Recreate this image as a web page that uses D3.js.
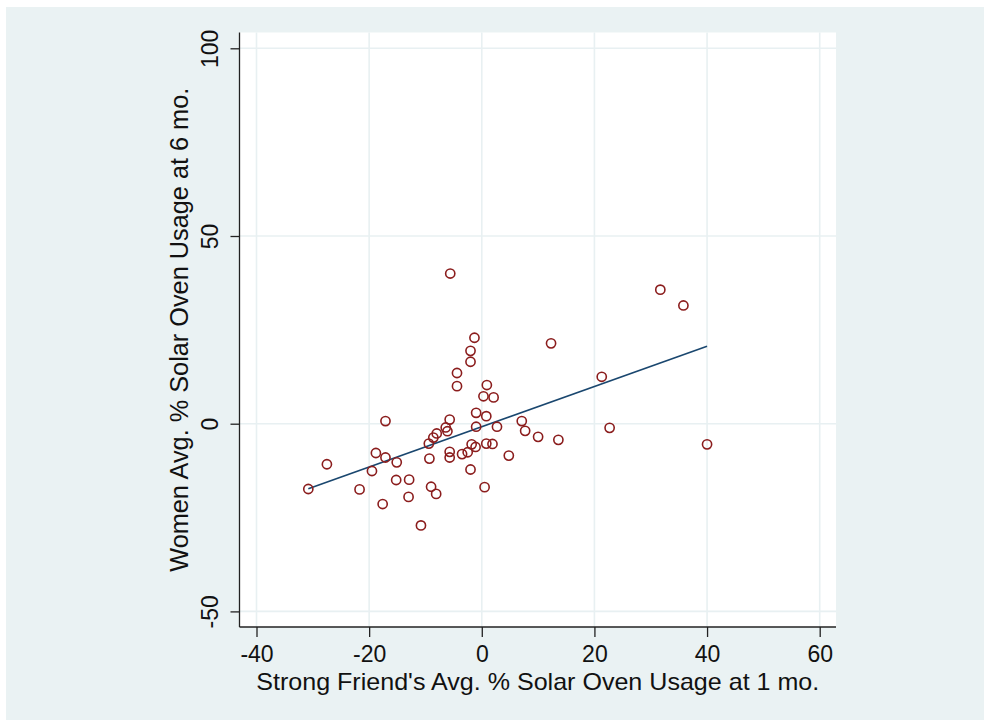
<!DOCTYPE html>
<html>
<head>
<meta charset="utf-8">
<script src="https://cdn.jsdelivr.net/npm/d3@7"></script>
<style>
  html, body { margin: 0; padding: 0; background: #ffffff; }
  svg { display: block; }
  text { font-family: "Liberation Sans", Arial, sans-serif; fill: #111; }
</style>
</head>
<body>
<svg id="chart" width="984" height="720"></svg>
<script>
// Strong friend's usage at 1 month (x) vs women's usage at 6 months (y)
const friendUsage1mo = [
  -30.8, -27.5, -21.7, -19.5, -18.8, -17.6, -17.1, -17.1, -15.1, -15.2,
  -12.9, -13.0, -10.8, -9.4, -9.3, -9.0, -8.1, -8.6, -8.0, -6.4,
  -6.1, -5.7, -5.6, -5.7, -5.7, -4.4, -4.4, -3.5, -2.5, -2.0,
  -2.0, -1.3, -1.8, -1.1, -2.0, -1.0, -1.0, 0.9, 0.3, 0.8,
  0.8, 0.5, 2.1, 1.9, 2.7, 4.8, 7.1, 7.7, 10.0, 13.6,
  12.3, 21.3, 22.7, 31.7, 35.8, 40.0
];
const womenUsage6mo = [
  -17.4, -10.8, -17.5, -12.6, -7.8, -21.4, 0.7, -9.0, -10.3, -15.0,
  -14.9, -19.5, -27.1, -5.3, -9.3, -16.8, -18.7, -3.7, -2.6, -1.0,
  -2.0, 1.1, 40.0, -7.5, -9.0, 13.5, 10.0, -8.1, -7.6, 19.4,
  16.5, 22.9, -5.5, -6.2, -12.2, 2.9, -0.8, 10.3, 7.3, 2.0,
  -5.3, -16.9, 7.0, -5.4, -0.8, -8.5, 0.7, -1.9, -3.5, -4.3,
  21.4, 12.5, -1.1, 35.7, 31.5, -5.5
];
// Linear fit, drawn across the range of x
const fitX = [-30.8, 40.0];
const fitY = [-17.3, 20.6];

const xTicks = [-40, -20, 0, 20, 40, 60];
const yTicks = [-50, 0, 50, 100];
const xTitle = "Strong Friend's Avg. % Solar Oven Usage at 1 mo.";
const yTitle = "Women Avg. % Solar Oven Usage at 6 mo.";

const svg = d3.select("#chart");
const W = 984, H = 720;

// graph region background
svg.append("rect").attr("x", 6).attr("y", 7).attr("width", W - 6).attr("height", H - 7)
  .attr("fill", "#eaf2f3");

// plot region
const plot = { left: 239.5, top: 32.5, right: 836, bottom: 627 };
svg.append("rect")
  .attr("x", plot.left).attr("y", plot.top)
  .attr("width", plot.right - plot.left).attr("height", plot.bottom - plot.top)
  .attr("fill", "#ffffff");

const x = d3.scaleLinear().domain([-40, 60]).range([256.5, 819.7]);
const y = d3.scaleLinear().domain([-50, 100]).range([611.4, 48.3]);

// gridlines
const grid = svg.append("g").attr("stroke", "#e8f0f2").attr("stroke-width", 1.6);
grid.selectAll("line.v").data(xTicks).join("line")
  .attr("x1", d => x(d)).attr("x2", d => x(d))
  .attr("y1", plot.top).attr("y2", plot.bottom);
grid.selectAll("line.h").data(yTicks).join("line")
  .attr("x1", plot.left).attr("x2", plot.right)
  .attr("y1", d => y(d)).attr("y2", d => y(d));

// axes (plain hyphen for negative labels)
const xAxis = d3.axisBottom(x).tickValues(xTicks).tickSize(10).tickPadding(4)
  .tickFormat(d => String(d));
const yAxis = d3.axisLeft(y).tickValues(yTicks).tickSize(9).tickPadding(4)
  .tickFormat(d => String(d));

const gx = svg.append("g").attr("transform", `translate(0,${plot.bottom})`).call(xAxis);
gx.select(".domain").attr("d", `M${plot.left},0H${plot.right}`).attr("stroke", "#222").attr("stroke-width", 1.3);
gx.selectAll(".tick line").attr("stroke", "#222").attr("stroke-width", 1.3);
gx.selectAll(".tick text").attr("font-size", 23).attr("y", 35).attr("dy", 0)
  .attr("fill", "#111").style("font-family", "'Liberation Sans', Arial, sans-serif");

const gy = svg.append("g").attr("transform", `translate(${plot.left},0)`).call(yAxis);
gy.select(".domain").attr("d", `M0,${plot.top}V${plot.bottom}`).attr("stroke", "#222").attr("stroke-width", 1.3);
gy.selectAll(".tick line").attr("stroke", "#222").attr("stroke-width", 1.3);
gy.selectAll(".tick text")
  .attr("font-size", 23).attr("x", null).attr("dy", null)
  .attr("text-anchor", "middle")
  .attr("transform", "translate(-22,0) rotate(-90)")
  .attr("fill", "#111").style("font-family", "'Liberation Sans', Arial, sans-serif");

// fit line
svg.append("path")
  .datum(fitX.map((v, i) => [v, fitY[i]]))
  .attr("d", d3.line().x(d => x(d[0])).y(d => y(d[1])))
  .attr("fill", "none").attr("stroke", "#1a476f").attr("stroke-width", 1.6);

// hollow circle markers
svg.append("g").selectAll("circle")
  .data(friendUsage1mo.map((v, i) => [v, womenUsage6mo[i]]))
  .join("circle")
  .attr("cx", d => x(d[0])).attr("cy", d => y(d[1]))
  .attr("r", 4.6)
  .attr("fill", "none").attr("stroke", "#8b1d1d").attr("stroke-width", 1.6);

// axis titles
const midX = (plot.left + plot.right) / 2;
const midY = (plot.top + plot.bottom) / 2;
svg.append("text").attr("x", midX).attr("y", 690)
  .attr("text-anchor", "middle").attr("font-size", 24)
  .attr("textLength", 563).attr("lengthAdjust", "spacingAndGlyphs")
  .text(xTitle);
svg.append("text")
  .attr("transform", `translate(188,${midY}) rotate(-90)`)
  .attr("text-anchor", "middle").attr("font-size", 25)
  .attr("textLength", 484).attr("lengthAdjust", "spacingAndGlyphs")
  .text(yTitle);
</script>
</body>
</html>
